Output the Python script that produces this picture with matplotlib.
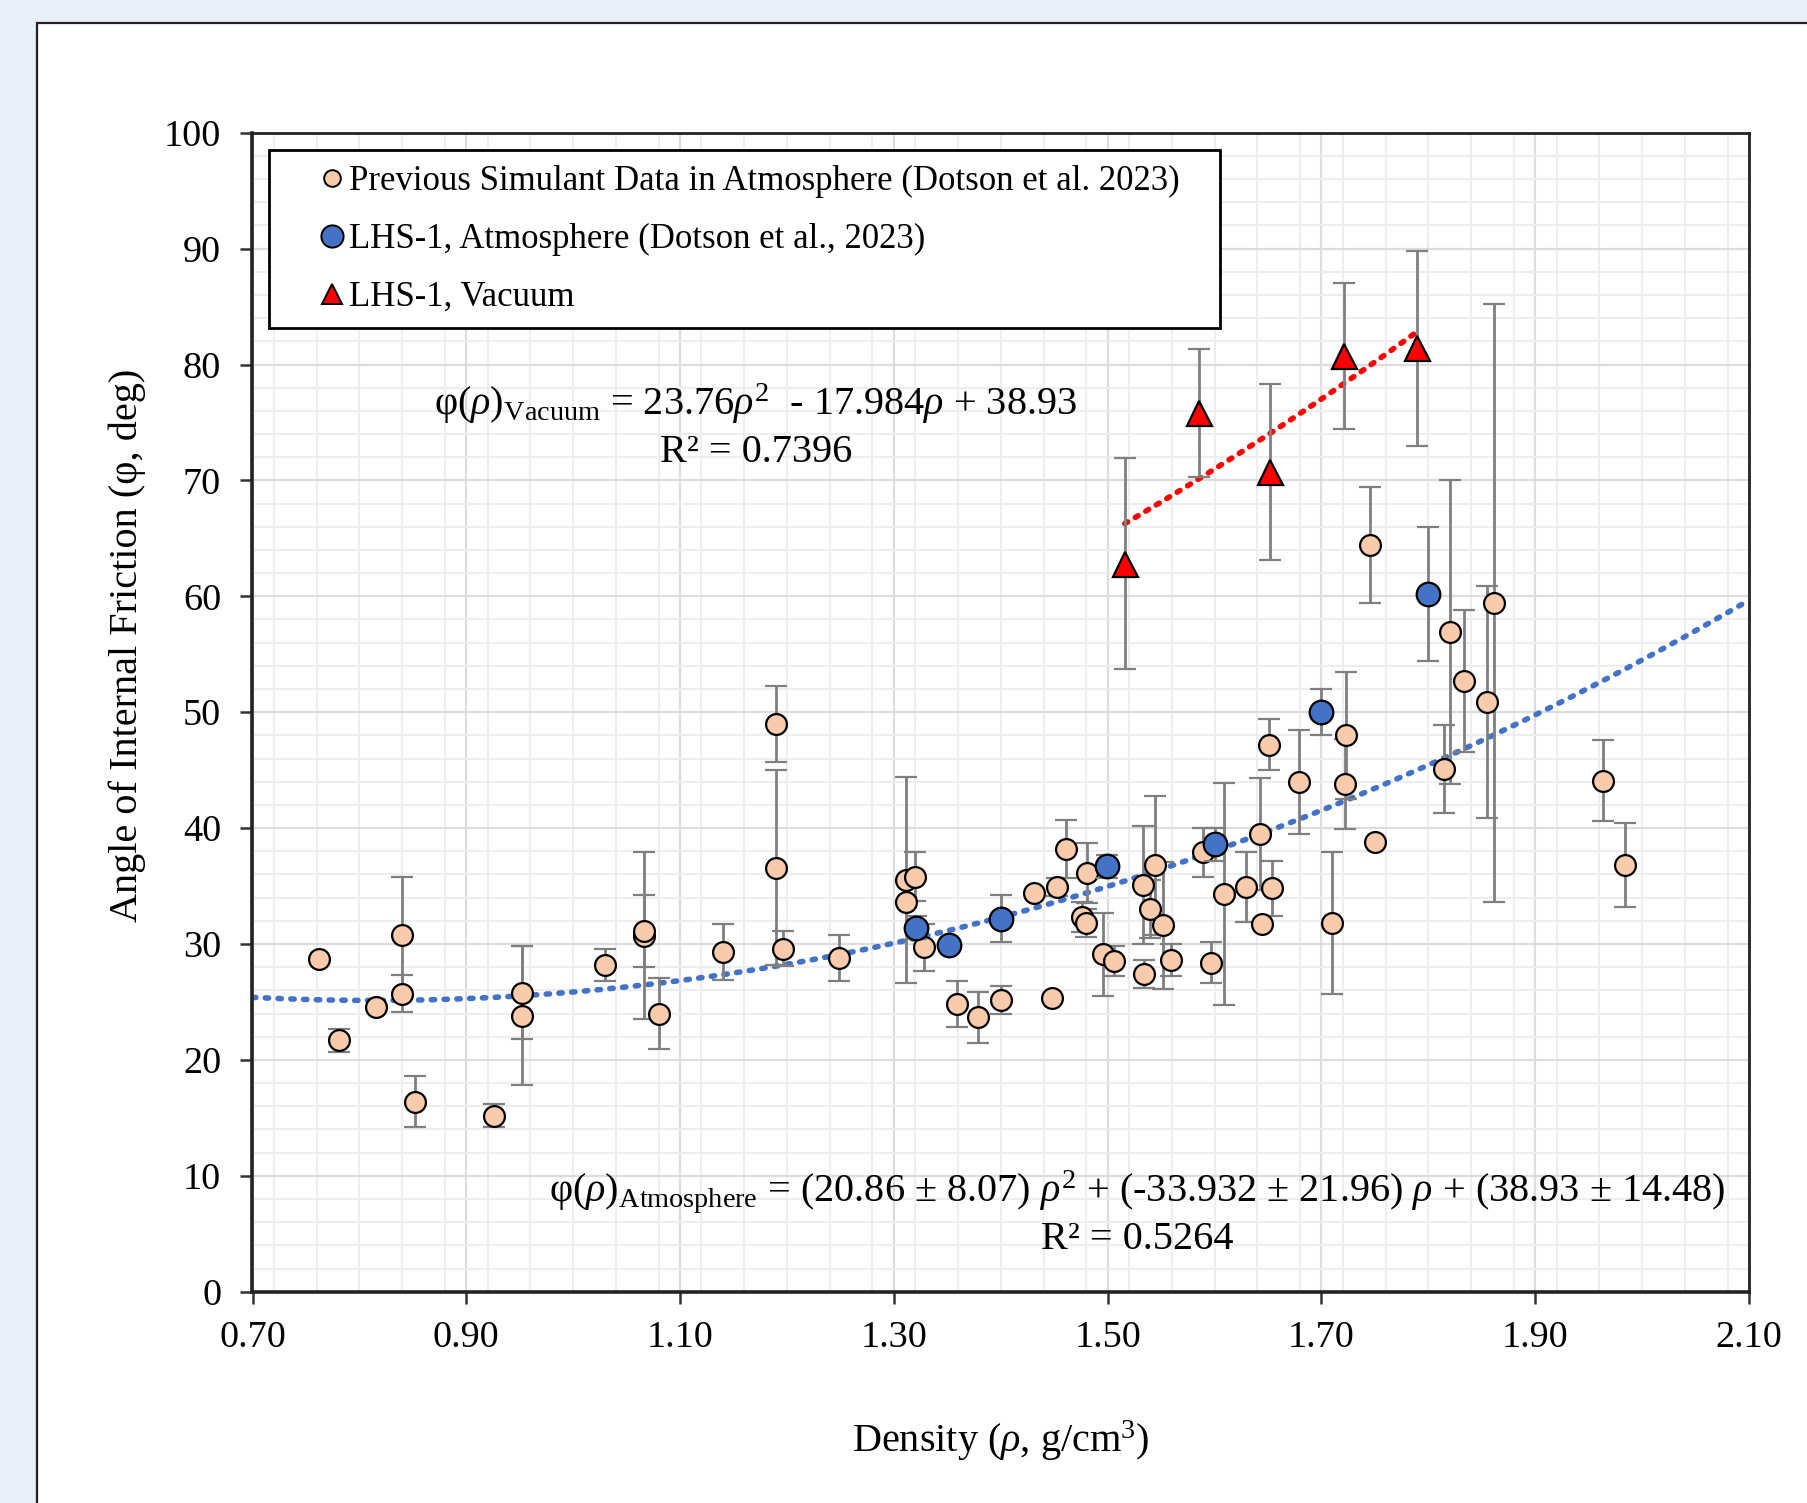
import numpy as np
import matplotlib
matplotlib.use("Agg")
import matplotlib.pyplot as plt
from matplotlib.lines import Line2D
from matplotlib.patches import Rectangle
from matplotlib.ticker import MultipleLocator, FormatStrFormatter

plt.rcParams['font.family'] = ['Liberation Serif', 'DejaVu Serif']
plt.rcParams['mathtext.fontset'] = 'custom'
plt.rcParams['mathtext.rm'] = 'Liberation Serif'
plt.rcParams['mathtext.it'] = 'Liberation Serif:italic'
plt.rcParams['mathtext.bf'] = 'Liberation Serif:bold'

# ---------------- data ----------------
prev_x = [0.762, 0.781, 0.816, 0.840, 0.840, 0.852, 0.926, 0.952, 0.952, 1.030,
          1.066, 1.066, 1.080, 1.140, 1.190, 1.190, 1.196, 1.249, 1.311, 1.320,
          1.311, 1.328, 1.359, 1.379, 1.400, 1.431, 1.448, 1.453, 1.461, 1.476,
          1.480, 1.481, 1.496, 1.506, 1.533, 1.544, 1.540, 1.552, 1.534, 1.559,
          1.589, 1.597, 1.609, 1.629, 1.643, 1.644, 1.651, 1.654, 1.679, 1.710,
          1.723, 1.722, 1.745, 1.750, 1.815, 1.820, 1.833, 1.855, 1.861, 1.963,
          1.984]
prev_y = [28.7, 21.7, 24.6, 30.8, 25.7, 16.4, 15.2, 25.8, 23.8, 28.2,
          30.7, 31.1, 24.0, 29.3, 49.0, 36.6, 29.6, 28.8, 35.5, 35.8,
          33.6, 29.7, 24.8, 23.7, 25.2, 34.4, 25.3, 34.9, 38.2, 32.3,
          31.8, 36.1, 29.1, 28.5, 35.1, 36.8, 33.0, 31.6, 27.4, 28.6,
          37.9, 28.4, 34.3, 34.9, 39.5, 31.7, 47.2, 34.8, 44.0, 31.8,
          48.0, 43.8, 64.4, 38.8, 45.1, 56.9, 52.7, 50.9, 59.4, 44.1,
          36.8]
prev_err = [0.0, 1.0, 0.0, 5.0, 1.6, 2.2, 1.0, 4.0, 6.0, 1.4,
            7.2, 3.1, 3.1, 2.4, 3.3, 8.4, 1.5, 2.0, 8.9, 2.1,
            0.0, 2.0, 2.0, 2.2, 1.2, 0.0, 0.0, 0.8, 2.5, 1.3,
            1.2, 2.6, 3.6, 1.3, 5.1, 6.0, 2.5, 5.5, 1.2, 1.4,
            2.1, 1.8, 9.6, 3.0, 4.8, 0.0, 2.2, 2.4, 4.5, 6.1,
            5.5, 3.9, 5.0, 0.0, 3.8, 13.1, 6.1, 10.0, 25.8, 3.5,
            3.6]

lhs_atm_x = [1.321, 1.352, 1.400, 1.499, 1.600, 1.700, 1.800]
lhs_atm_y = [31.4, 29.9, 32.2, 36.7, 38.6, 50.0, 60.2]
lhs_atm_err = [1.0, 0.0, 2.0, 1.0, 1.4, 2.0, 5.8]

lhs_vac_x = [1.516, 1.585, 1.652, 1.721, 1.789]
lhs_vac_y = [62.8, 75.8, 70.7, 80.7, 81.4]
lhs_vac_err = [9.1, 5.5, 7.6, 6.3, 8.4]

# trendline coefficients (as printed on the chart)
atm_coef = [20.86, -33.932, 38.93]
vac_coef = [23.76, -17.984, 38.93]

x_ticks = [0.70, 0.90, 1.10, 1.30, 1.50, 1.70, 1.90, 2.10]
y_ticks = [0, 10, 20, 30, 40, 50, 60, 70, 80, 90, 100]

legend_labels = ["Previous Simulant Data in Atmosphere (Dotson et al. 2023)",
                 "LHS-1, Atmosphere (Dotson et al., 2023)",
                 "LHS-1, Vacuum"]

# ---------------- figure ----------------
W, H = 1808, 1503
fig = plt.figure(figsize=(W / 100, H / 100), dpi=100)
fig.patch.set_facecolor('#e8eff7')
panel = Rectangle((37 / W, -0.05), 1.1, 1 - 23 / H + 0.05, transform=fig.transFigure,
                  facecolor='white', edgecolor='#222222', linewidth=1.6, zorder=-10)
fig.patches.append(panel)

ax = fig.add_axes([252.5 / W, 1 - 1291.7 / H, (1749 - 252.5) / W, (1291.7 - 132.7) / H])
ax.set_zorder(1)
ax.set_xlim(0.70, 2.10)
ax.set_ylim(0, 100)
ax.set_xticks(x_ticks)
ax.set_yticks(y_ticks)
ax.xaxis.set_major_formatter(FormatStrFormatter('%.2f'))
ax.xaxis.set_minor_locator(MultipleLocator(0.04))
ax.yaxis.set_minor_locator(MultipleLocator(2))
ax.grid(which='minor', color='#eeeeee', linewidth=1.5, zorder=0)
ax.grid(which='major', color='#dcdcdc', linewidth=1.6, zorder=0)
ax.set_axisbelow(True)
ax.tick_params(which='major', direction='out', length=8.5, width=1.8, color='#333333',
               labelsize=27.5, pad=12)
ax.tick_params(axis='y', pad=14)
ax.tick_params(which='minor', length=0)
for s in ax.spines.values():
    s.set_color('#222222')
    s.set_linewidth(2.0)
ax.spines['left'].set_linewidth(2.6)
ax.spines['bottom'].set_linewidth(2.6)

err_kw = dict(ecolor='#7f7f7f', elinewidth=2.0, capsize=8, capthick=2.0, linestyle='none')

# trendlines
xa = np.linspace(0.70, 2.10, 300)
ax.plot(xa, np.polyval(atm_coef, xa), color='#4472C4', linestyle=(0, (0.6, 1.7)),
        linewidth=4, dash_capstyle='round', zorder=2)
xv = np.linspace(min(lhs_vac_x), max(lhs_vac_x), 100)
ax.plot(xv, np.polyval(vac_coef, xv), color='#FF0000', linestyle=(0, (0.6, 1.6)),
        linewidth=4, dash_capstyle='round', zorder=2)

# data
ax.errorbar(prev_x, prev_y, yerr=prev_err, fmt='o', marker='o', ms=15, mfc='#F8CBAD',
            mec='black', mew=1.6, zorder=3, **err_kw)
ax.errorbar(lhs_atm_x, lhs_atm_y, yerr=lhs_atm_err, fmt='o', marker='o', ms=17, mfc='#4472C4',
            mec='black', mew=1.6, zorder=4, **err_kw)
ax.errorbar(lhs_vac_x, lhs_vac_y, yerr=lhs_vac_err, fmt='^', marker='^', ms=18, mfc='#FF0000',
            mec='black', mew=1.6, zorder=4, **err_kw)

# labels
ax.set_xlabel(r'Density ($\rho$, g/cm$^{3}$)', fontsize=29, va='center')
ax.xaxis.set_label_coords(0.5, -0.1288)
ax.set_ylabel('Angle of Internal Friction (φ, deg)', fontsize=29, va='center')
ax.yaxis.set_label_coords(-0.0839, 0.558)

# equations
ax.text(1.171, 76.6, r'φ($\rho$)$_{\mathrm{Vacuum}}$ = 23.76$\rho^{2}$  - 17.984$\rho$ + 38.93',
        fontsize=29, ha='center', va='center', zorder=5)
ax.text(1.171, 72.4, 'R² = 0.7396', fontsize=29, ha='center', va='center', zorder=5)
ax.text(1.528, 8.6, r'φ($\rho$)$_{\mathrm{Atmosphere}}$ = (20.86 ± 8.07) $\rho^{2}$ + (-33.932 ± 21.96) $\rho$ + (38.93 ± 14.48)',
        fontsize=29, ha='center', va='center', zorder=5)
ax.text(1.528, 4.5, 'R² = 0.5264', fontsize=29, ha='center', va='center', zorder=5)

# legend
handles = [Line2D([], [], linestyle='none', marker='o', ms=12, mfc='#F8CBAD', mec='black', mew=1.4),
           Line2D([], [], linestyle='none', marker='o', ms=16, mfc='#4472C4', mec='black', mew=1.4),
           Line2D([], [], linestyle='none', marker='^', ms=15, mfc='#FF0000', mec='black', mew=1.4)]
leg = ax.legend(handles, legend_labels, loc='upper left',
                bbox_to_anchor=(0.0108, 0.885, 0.636, 0.1), mode='expand',
                fontsize=25, frameon=True, fancybox=False, edgecolor='black',
                framealpha=1, borderpad=0.42, labelspacing=0.72,
                handlelength=2.8, handletextpad=-0.9, borderaxespad=0)
leg.get_frame().set_linewidth(2.0)
leg.set_zorder(6)

fig.savefig('out.png', dpi=100, facecolor=fig.get_facecolor())
